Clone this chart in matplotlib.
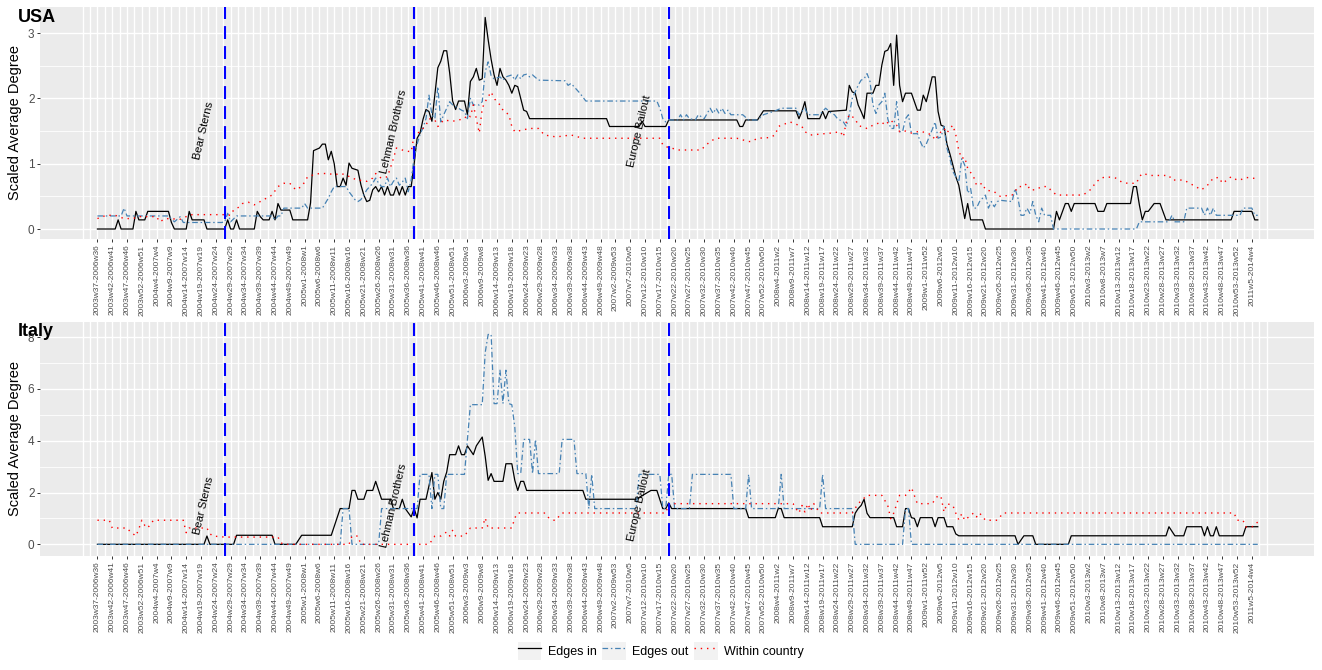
import numpy as np
import matplotlib
matplotlib.use("Agg")
import matplotlib.pyplot as plt
from matplotlib.patches import Patch
from matplotlib.lines import Line2D
from matplotlib.legend_handler import HandlerTuple

plt.rcParams['font.family'] = ['Liberation Sans', 'DejaVu Sans']

# x tick labels (rolling 3-year windows, one label every 5 weeks)
window_labels = [
    "2003w37-2006w36", "2003w42-2006w41", "2003w47-2006w46", "2003w52-2006w51",
    "2004w4-2007w4", "2004w9-2007w9", "2004w14-2007w14", "2004w19-2007w19",
    "2004w24-2007w24", "2004w29-2007w29", "2004w34-2007w34", "2004w39-2007w39",
    "2004w44-2007w44", "2004w49-2007w49", "2005w1-2008w1", "2005w6-2008w6",
    "2005w11-2008w11", "2005w16-2008w16", "2005w21-2008w21", "2005w26-2008w26",
    "2005w31-2008w31", "2005w36-2008w36", "2005w41-2008w41", "2005w46-2008w46",
    "2005w51-2008w51", "2006w3-2009w3", "2006w9-2009w8", "2006w14-2009w13",
    "2006w19-2009w18", "2006w24-2009w23", "2006w29-2009w28", "2006w34-2009w33",
    "2006w39-2009w38", "2006w44-2009w43", "2006w49-2009w48", "2007w2-2009w53",
    "2007w7-2010w5", "2007w12-2010w10", "2007w17-2010w15", "2007w22-2010w20",
    "2007w27-2010w25", "2007w32-2010w30", "2007w37-2010w35", "2007w42-2010w40",
    "2007w47-2010w45", "2007w52-2010w50", "2008w4-2011w2", "2008w9-2011w7",
    "2008w14-2011w12", "2008w19-2011w17", "2008w24-2011w22", "2008w29-2011w27",
    "2008w34-2011w32", "2008w39-2011w37", "2008w44-2011w42", "2008w49-2011w47",
    "2009w1-2011w52", "2009w6-2012w5", "2009w11-2012w10", "2009w16-2012w15",
    "2009w21-2012w20", "2009w26-2012w25", "2009w31-2012w30", "2009w36-2012w35",
    "2009w41-2012w40", "2009w46-2012w45", "2009w51-2012w50", "2010w3-2013w2",
    "2010w8-2013w7", "2010w13-2013w12", "2010w18-2013w17", "2010w23-2013w22",
    "2010w28-2013w27", "2010w33-2013w32", "2010w38-2013w37", "2010w43-2013w42",
    "2010w48-2013w47", "2010w53-2013w52", "2011w5-2014w4",
]

# events: window index of the vertical line, window index of the label
event_names = ["Bear Sterns", "Lehman Brothers", "Europe Bailout"]
event_weeks = [43, 107, 193]
event_label_weeks = [36, 100, 183]

# (window index, scaled average degree)
usa_in = [
    (0, 0), (6, 0), (7, 0.14), (8, 0), (12, 0), (13, 0.27), (14, 0.14), (16, 0.14), (17, 0.27),
    (24, 0.27), (25, 0.1), (26, 0), (30, 0), (31, 0.27), (32, 0.14), (36, 0.14), (37, 0), (43, 0),
    (44, 0.14), (45, 0), (46, 0), (47, 0.14), (48, 0), (53, 0), (54, 0.27), (55, 0.19), (56, 0.14),
    (58, 0.14), (59, 0.27), (60, 0.14), (61, 0.39), (62, 0.29), (65, 0.29), (66, 0.14), (71, 0.14),
    (72, 0.4), (73, 1.2), (75, 1.24), (76, 1.3), (77, 1.3), (78, 1.06), (79, 1.19), (80, 1.0),
    (81, 0.65), (82, 0.65), (83, 0.78), (84, 0.67), (85, 1.01), (86, 0.93), (88, 0.9), (89, 0.68),
    (90, 0.52), (91, 0.42), (92, 0.44), (93, 0.6), (94, 0.65), (95, 0.57), (96, 0.65), (97, 0.52),
    (98, 0.65), (99, 0.52), (100, 0.52), (101, 0.65), (102, 0.52), (103, 0.65), (104, 0.52),
    (105, 0.65), (106, 0.65), (107, 1.0), (108, 1.39), (109, 1.47), (110, 1.68), (111, 1.83),
    (112, 1.8), (113, 1.65), (114, 2.06), (115, 2.47), (116, 2.57), (117, 2.73), (118, 2.73),
    (119, 2.39), (120, 1.96), (121, 1.83), (122, 1.96), (124, 1.96), (125, 1.75), (126, 2.26),
    (127, 2.33), (128, 2.46), (129, 2.28), (130, 2.3), (131, 3.24), (132, 2.9), (133, 2.6),
    (134, 2.36), (135, 2.2), (136, 2.46), (137, 2.33), (138, 2.28), (139, 2.2), (140, 2.08),
    (141, 2.2), (142, 2.18), (143, 2.0), (144, 1.82), (145, 1.8), (146, 1.69), (172, 1.69),
    (173, 1.57), (183, 1.57), (184, 1.65), (185, 1.57), (192, 1.57), (193, 1.67), (216, 1.67),
    (217, 1.57), (218, 1.57), (219, 1.67), (223, 1.67), (225, 1.81), (236, 1.81), (237, 1.69),
    (238, 1.8), (239, 1.95), (240, 1.69), (244, 1.69), (245, 1.8), (246, 1.69), (247, 1.8),
    (253, 1.82), (254, 2.2), (255, 2.1), (256, 2.08), (257, 1.9), (258, 1.8), (259, 1.69),
    (260, 2.08), (262, 2.08), (263, 2.2), (264, 2.2), (265, 2.51), (266, 2.72), (267, 2.74),
    (268, 2.84), (269, 2.2), (270, 2.97), (271, 2.2), (272, 1.95), (273, 2.08), (275, 2.08),
    (276, 1.95), (277, 1.82), (278, 1.82), (279, 2.05), (280, 1.95), (281, 2.13), (282, 2.33),
    (283, 2.33), (284, 1.8), (285, 1.59), (286, 1.57), (287, 1.3), (288, 1.15), (289, 0.98),
    (290, 0.8), (291, 0.67), (292, 0.42), (293, 0.16), (294, 0.39), (295, 0.14), (299, 0.14),
    (300, 0), (323, 0), (324, 0.27), (325, 0.14), (327, 0.39), (328, 0.39), (329, 0.27),
    (330, 0.39), (337, 0.39), (338, 0.27), (340, 0.27), (341, 0.39), (349, 0.39), (350, 0.65),
    (351, 0.65), (352, 0.37), (353, 0.14), (354, 0.27), (355, 0.27), (357, 0.39), (359, 0.39),
    (361, 0.14), (383, 0.14), (384, 0.27), (390, 0.27), (391, 0.14), (392, 0.14),
]

usa_out = [
    (0, 0.2), (8, 0.2), (9, 0.32), (10, 0.2), (24, 0.2), (26, 0.11), (28, 0.19), (29, 0.1),
    (42, 0.1), (43, 0.11), (44, 0.24), (45, 0.11), (47, 0.2), (59, 0.2), (60, 0.14), (61, 0.2),
    (62, 0.2), (63, 0.32), (69, 0.32), (70, 0.39), (71, 0.32), (76, 0.32), (78, 0.47), (79, 0.57),
    (80, 0.65), (84, 0.65), (85, 0.57), (87, 0.45), (88, 0.42), (89, 0.45), (90, 0.52), (91, 0.6),
    (92, 0.65), (93, 0.7), (94, 0.78), (95, 0.7), (96, 0.65), (97, 0.65), (98, 0.78), (99, 0.65),
    (100, 0.73), (101, 0.78), (102, 0.67), (103, 0.72), (104, 0.78), (105, 0.57), (106, 0.75),
    (107, 1.1), (108, 1.3), (109, 1.45), (110, 1.55), (111, 1.69), (112, 2.05), (113, 1.75),
    (114, 1.69), (115, 2.18), (116, 1.64), (117, 1.75), (118, 1.85), (119, 1.95), (120, 1.9),
    (122, 1.85), (123, 1.82), (124, 1.8), (125, 1.69), (126, 2.0), (127, 1.9), (129, 1.9),
    (130, 1.95), (131, 2.41), (132, 2.56), (133, 2.35), (134, 2.3), (136, 2.33), (137, 2.28),
    (138, 2.33), (140, 2.36), (141, 2.28), (142, 2.36), (143, 2.3), (144, 2.36), (145, 2.37),
    (146, 2.33), (147, 2.36), (149, 2.28), (158, 2.27), (159, 2.2), (160, 2.23), (161, 2.18),
    (163, 2.08), (165, 1.96), (189, 1.96), (190, 1.85), (191, 1.69), (192, 1.64), (193, 1.67),
    (196, 1.67), (197, 1.75), (198, 1.67), (199, 1.75), (200, 1.69), (202, 1.67), (203, 1.75),
    (205, 1.69), (206, 1.77), (207, 1.85), (208, 1.77), (209, 1.85), (210, 1.77), (211, 1.85),
    (212, 1.77), (213, 1.82), (214, 1.75), (218, 1.75), (220, 1.67), (223, 1.67), (225, 1.75),
    (229, 1.81), (231, 1.85), (236, 1.85), (237, 1.75), (238, 1.8), (239, 1.85), (240, 1.75),
    (244, 1.75), (245, 1.8), (246, 1.85), (248, 1.77), (249, 1.75), (250, 1.69), (252, 1.64),
    (253, 1.57), (254, 1.75), (255, 2.0), (256, 2.1), (257, 2.2), (258, 2.28), (259, 2.3),
    (260, 2.38), (261, 2.26), (262, 1.9), (263, 1.77), (264, 1.9), (265, 1.95), (266, 2.08),
    (267, 1.69), (268, 1.54), (269, 1.54), (270, 1.95), (271, 1.49), (272, 1.49), (273, 1.69),
    (274, 1.75), (275, 1.46), (277, 1.46), (278, 1.34), (279, 1.24), (280, 1.3), (282, 1.52),
    (283, 1.64), (284, 1.39), (285, 1.41), (286, 1.57), (287, 1.24), (288, 1.08), (289, 0.88),
    (290, 0.8), (291, 0.72), (292, 1.08), (293, 0.98), (294, 0.55), (295, 0.62), (296, 0.32),
    (297, 0.32), (298, 0.42), (300, 0.52), (301, 0.32), (302, 0.42), (303, 0.34), (304, 0.42),
    (305, 0.44), (309, 0.42), (310, 0.62), (311, 0.47), (312, 0.21), (313, 0.21), (314, 0.32),
    (315, 0.24), (316, 0.42), (317, 0.21), (318, 0.11), (319, 0.32), (320, 0.21), (322, 0.21),
    (323, 0), (351, 0), (352, 0.11), (362, 0.11), (363, 0.21), (364, 0.11), (367, 0.11),
    (368, 0.32), (373, 0.32), (374, 0.21), (375, 0.32), (376, 0.21), (377, 0.32), (378, 0.21),
    (386, 0.21), (387, 0.32), (390, 0.32), (391, 0.21), (392, 0.21),
]

usa_within = [
    (0, 0.16), (3, 0.21), (6, 0.21), (9, 0.16), (12, 0.16), (14, 0.19), (20, 0.19), (21, 0.11),
    (23, 0.16), (28, 0.15), (30, 0.19), (32, 0.22), (43, 0.22), (45, 0.21), (46, 0.29), (48, 0.34),
    (49, 0.39), (51, 0.41), (53, 0.37), (55, 0.42), (57, 0.47), (59, 0.52), (61, 0.65), (63, 0.7),
    (65, 0.7), (66, 0.65), (67, 0.6), (69, 0.65), (70, 0.72), (71, 0.8), (73, 0.83), (75, 0.85),
    (78, 0.85), (80, 0.83), (82, 0.85), (84, 0.83), (86, 0.78), (88, 0.75), (91, 0.73), (93, 0.78),
    (94, 0.85), (95, 0.8), (96, 0.78), (98, 0.8), (100, 1.08), (101, 1.24), (103, 1.21), (106, 1.18),
    (107, 1.44), (109, 1.49), (110, 1.54), (111, 1.59), (112, 1.69), (114, 1.67), (115, 1.57),
    (116, 1.62), (117, 1.67), (120, 1.65), (124, 1.69), (125, 1.75), (126, 1.72), (127, 1.9),
    (128, 1.69), (129, 1.47), (130, 1.85), (131, 1.95), (133, 2.1), (134, 2.0), (136, 1.9),
    (137, 1.82), (139, 1.75), (140, 1.57), (141, 1.49), (146, 1.54), (149, 1.54), (151, 1.44),
    (155, 1.41), (160, 1.44), (164, 1.39), (190, 1.39), (191, 1.29), (192, 1.26), (194, 1.24),
    (196, 1.21), (204, 1.21), (205, 1.26), (207, 1.34), (209, 1.39), (216, 1.39), (220, 1.34),
    (221, 1.34), (223, 1.39), (227, 1.4), (229, 1.44), (230, 1.57), (234, 1.64), (238, 1.57),
    (239, 1.49), (241, 1.44), (248, 1.47), (251, 1.49), (252, 1.41), (253, 1.64), (254, 1.75),
    (256, 1.69), (257, 1.59), (258, 1.57), (260, 1.54), (262, 1.59), (265, 1.64), (266, 1.59),
    (268, 1.67), (269, 1.62), (270, 1.59), (271, 1.49), (273, 1.5), (275, 1.47), (278, 1.5),
    (280, 1.47), (282, 1.44), (283, 1.36), (284, 1.44), (286, 1.54), (287, 1.47), (288, 1.54),
    (289, 1.59), (290, 1.44), (291, 1.2), (292, 1.08), (293, 1.1), (294, 0.93), (296, 0.8),
    (297, 0.67), (299, 0.7), (300, 0.6), (303, 0.57), (305, 0.5), (309, 0.52), (310, 0.57),
    (311, 0.65), (313, 0.65), (314, 0.7), (315, 0.6), (317, 0.6), (319, 0.65), (321, 0.65),
    (322, 0.6), (324, 0.52), (333, 0.52), (336, 0.62), (337, 0.7), (339, 0.78), (341, 0.8),
    (344, 0.78), (346, 0.72), (348, 0.7), (351, 0.7), (352, 0.8), (353, 0.85), (356, 0.82),
    (362, 0.82), (363, 0.75), (367, 0.75), (369, 0.7), (371, 0.65), (373, 0.6), (375, 0.67),
    (377, 0.78), (379, 0.79), (380, 0.7), (381, 0.73), (383, 0.8), (385, 0.75), (386, 0.75),
    (388, 0.79), (392, 0.77),
]

italy_in = [
    (0, 0), (36, 0), (37, 0.32), (38, 0), (46, 0), (47, 0.35), (59, 0.35), (60, 0), (67, 0),
    (69, 0.35), (79, 0.35), (82, 1.38), (85, 1.38), (86, 2.08), (87, 2.08), (88, 1.74), (90, 1.74),
    (91, 2.08), (93, 2.08), (94, 2.43), (96, 1.74), (99, 1.74), (100, 1.38), (102, 1.38),
    (103, 1.74), (104, 1.38), (106, 1.06), (107, 1.38), (108, 1.02), (109, 1.74), (111, 1.74),
    (113, 2.77), (114, 1.74), (115, 2.0), (116, 1.74), (117, 2.43), (118, 2.79), (119, 3.46),
    (121, 3.46), (122, 3.8), (123, 3.46), (124, 3.46), (125, 3.8), (127, 3.46), (128, 3.8),
    (130, 4.14), (131, 3.4), (132, 2.47), (133, 2.73), (134, 2.43), (137, 2.43), (138, 3.11),
    (140, 3.11), (141, 2.47), (142, 2.08), (143, 2.43), (144, 2.43), (145, 2.08), (164, 2.08),
    (165, 1.74), (182, 1.74), (187, 2.08), (189, 2.08), (191, 1.38), (192, 1.38), (193, 1.6),
    (194, 1.38), (219, 1.38), (220, 1.03), (229, 1.03), (230, 1.38), (231, 1.38), (232, 1.03),
    (244, 1.03), (245, 0.68), (255, 0.68), (256, 1.2), (257, 1.38), (258, 1.5), (259, 1.74),
    (260, 1.2), (261, 1.03), (269, 1.03), (270, 0.68), (272, 0.68), (273, 1.38), (274, 1.38),
    (275, 1.03), (276, 1.0), (277, 0.68), (278, 1.03), (282, 1.03), (283, 0.68), (284, 1.03),
    (286, 1.03), (287, 0.68), (289, 0.68), (290, 0.4), (291, 0.33), (310, 0.33), (311, 0),
    (313, 0.33), (316, 0.33), (317, 0), (328, 0), (329, 0.33), (361, 0.33), (362, 0.68),
    (364, 0.33), (367, 0.33), (368, 0.68), (373, 0.68), (374, 0.33), (375, 0.68), (376, 0.33),
    (377, 0.33), (378, 0.68), (379, 0.33), (387, 0.33), (388, 0.68), (392, 0.68),
]

italy_out = [
    (0, 0), (82, 0), (83, 1.38), (85, 1.38), (86, 0), (95, 0), (96, 1.38), (108, 1.38),
    (109, 2.7), (112, 2.7), (113, 1.38), (114, 2.7), (115, 2.7), (116, 1.38), (117, 1.38),
    (118, 2.7), (124, 2.7), (126, 5.39), (130, 5.39), (131, 7.4), (132, 8.1), (133, 8.1),
    (134, 5.43), (135, 5.43), (136, 6.72), (137, 5.43), (138, 6.72), (139, 5.43), (140, 5.39),
    (141, 4.53), (142, 2.73), (143, 2.73), (144, 4.05), (146, 4.05), (147, 2.73), (148, 4.05),
    (149, 2.73), (156, 2.73), (157, 4.05), (161, 4.05), (162, 2.73), (165, 2.73), (166, 1.38),
    (167, 2.7), (168, 1.38), (182, 1.38), (183, 2.7), (190, 2.7), (191, 1.38), (192, 1.38),
    (193, 2.7), (194, 2.7), (195, 1.38), (200, 1.38), (201, 2.7), (214, 2.7), (215, 1.38),
    (219, 1.38), (220, 2.7), (221, 1.38), (230, 1.38), (231, 2.7), (232, 1.38), (244, 1.38),
    (245, 2.7), (246, 1.38), (255, 1.38), (256, 0), (272, 0), (273, 1.38), (274, 1.38), (275, 0),
    (392, 0),
]

italy_within = [
    (0, 0.93), (4, 0.93), (5, 0.63), (10, 0.63), (11, 0.5), (13, 0.32), (14, 0.6), (15, 0.93),
    (16, 0.73), (17, 0.63), (18, 0.8), (19, 0.93), (29, 0.93), (30, 0.45), (31, 0.63), (37, 0.63),
    (38, 0.41), (39, 0.32), (43, 0.28), (61, 0.28), (62, 0.06), (63, 0), (85, 0), (86, 0.32),
    (88, 0.32), (89, 0), (112, 0), (113, 0.15), (114, 0.32), (116, 0.32), (118, 0.48), (119, 0.32),
    (120, 0.54), (121, 0.32), (124, 0.32), (125, 0.48), (126, 0.63), (130, 0.63), (131, 1.02),
    (132, 0.63), (140, 0.63), (141, 1.02), (142, 1.21), (151, 1.21), (152, 1.06), (154, 0.93),
    (155, 0.93), (156, 1.1), (157, 1.21), (192, 1.21), (193, 1.57), (235, 1.57), (236, 1.38),
    (237, 1.21), (238, 1.5), (239, 1.25), (240, 1.57), (241, 1.3), (242, 1.57), (244, 1.21),
    (255, 1.21), (257, 1.57), (260, 1.89), (265, 1.89), (267, 1.5), (268, 0.99), (269, 1.2),
    (271, 1.89), (273, 1.89), (274, 2.02), (275, 2.19), (277, 1.57), (282, 1.57), (284, 1.89),
    (285, 1.83), (286, 1.25), (287, 1.57), (289, 1.5), (290, 1.2), (291, 0.95), (292, 1.18),
    (293, 0.93), (296, 1.21), (297, 1.06), (298, 1.21), (300, 0.93), (304, 0.93), (306, 1.21),
    (384, 1.21), (385, 0.93), (387, 0.93), (388, 0.67), (390, 0.67), (392, 0.86),
]

series_names = ["Edges in", "Edges out", "Within country"]
series_colors = ["black", "#4682B4", "#FF0000"]
series_styles = ["-", (0, (4.5, 2.2, 1.2, 2.2)), (0, (1, 3.5))]
series_widths = [0.9, 0.9, 1.0]

panel_bg = "#EBEBEB"
text_grey = "#4D4D4D"


def draw_panel(ax, data, yticks, yminor, ylim, title):
    ax.set_facecolor(panel_bg)
    for s in ax.spines.values():
        s.set_visible(False)

    # grid like ggplot: major at every labelled window, minor in between
    major_x = np.arange(0, 391, 5)
    minor_x = np.concatenate([[-5, 395], np.arange(-2.5, 395, 5)])
    ax.set_xticks(major_x)
    ax.set_xticks(minor_x, minor=True)
    ax.set_xticklabels(window_labels, rotation=90, fontsize=6, color=text_grey, va="top")
    ax.set_yticks(yticks)
    ax.set_yticks(yminor, minor=True)
    ax.set_yticklabels([str(t) for t in yticks], fontsize=8.5, color=text_grey)
    ax.tick_params(which="major", length=2.5, width=0.7, color="#333333", pad=1.5)
    ax.tick_params(which="minor", length=0)
    ax.grid(which="major", color="white", linewidth=1.0)
    ax.grid(which="minor", axis="x", color="white", linewidth=1.0)
    ax.grid(which="minor", axis="y", color="white", linewidth=0.6)
    ax.set_axisbelow(True)

    for pts, name, col, ls, lw in zip(data, series_names, series_colors, series_styles, series_widths):
        arr = np.array(pts)
        ax.plot(arr[:, 0], arr[:, 1], color=col, linestyle=ls, linewidth=lw, label=name)

    for name, wk, lab_wk in zip(event_names, event_weeks, event_label_weeks):
        ax.axvline(wk, color="#0000FF", linestyle=(0, (6.2, 3.4)), linewidth=1.5, zorder=3)
        ax.text(lab_wk, 1.5, name, rotation=77, fontsize=8, ha="center", va="center",
                rotation_mode="anchor", color="black", zorder=4)

    ax.set_xlim(-19.4, 411)
    ax.set_ylim(*ylim)
    ax.set_ylabel("Scaled Average Degree", fontsize=10.5, color="black")
    ax.yaxis.label.set_va("center")
    ax.yaxis.set_label_coords(-0.0196, 0.5)


fig = plt.figure(figsize=(13.22, 6.70), dpi=100)
W, H = 1322, 670
ax_usa = fig.add_axes([40 / W, 1 - 239 / H, 1274 / W, 232 / H])
ax_ita = fig.add_axes([40 / W, 1 - 556 / H, 1274 / W, 234 / H])

draw_panel(ax_usa, [usa_in, usa_out, usa_within], [0, 1, 2, 3], [0.5, 1.5, 2.5], (-0.153, 3.40), "USA")
draw_panel(ax_ita, [italy_in, italy_out, italy_within], [0, 2, 4, 6, 8], [1, 3, 5, 7], (-0.45, 8.58), "Italy")

fig.text(18 / W, 1 - 9 / H, "USA", fontsize=13, fontweight="bold", ha="left", va="top")
fig.text(18 / W, 1 - 323 / H, "Italy", fontsize=13, fontweight="bold", ha="left", va="top")

# legend with grey key boxes like ggplot
handles = []
for name, col, ls, lw in zip(series_names, series_colors, series_styles, series_widths):
    handles.append((Patch(facecolor="#F2F2F2", edgecolor="none"),
                    Line2D([], [], color=col, linestyle=ls, linewidth=lw)))
fig.legend(handles=handles, labels=series_names, handler_map={tuple: HandlerTuple(ndivide=1, pad=0)},
           loc="center", bbox_to_anchor=(0.5, 1 - 651 / H), ncol=3, frameon=False, fontsize=9,
           handlelength=1.85, handleheight=1.85, handletextpad=0.55, columnspacing=0.45,
           borderpad=0, borderaxespad=0)

fig.savefig("out.png", dpi=100, facecolor="white")
